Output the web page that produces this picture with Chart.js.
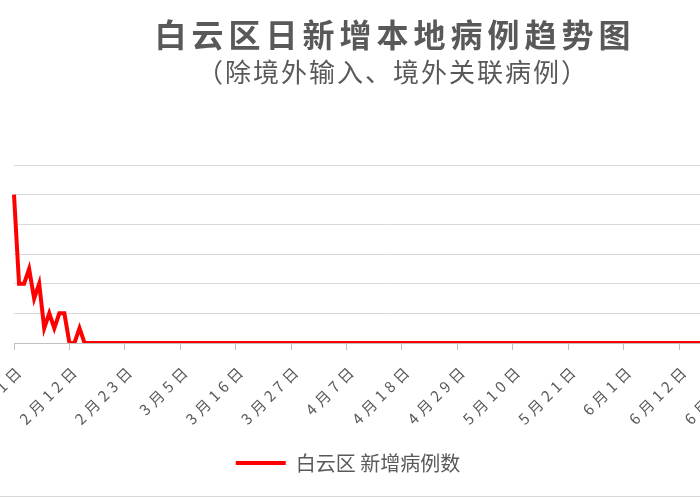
<!DOCTYPE html>
<html>
<head>
<meta charset="utf-8">
<script src="https://cdn.jsdelivr.net/npm/chart.js@4.4.1/dist/chart.umd.min.js"></script>
<style>
html,body{margin:0;padding:0;background:#ffffff;overflow:hidden;width:700px;height:500px;}
#wrap{position:absolute;left:-100px;top:0;width:893px;height:500px;}
#frame{position:absolute;left:0;top:496px;width:700px;height:1px;background:#d9d9d9;}
</style>
</head>
<body>
<div id="wrap"><canvas id="c" width="893" height="500"></canvas></div>
<div id="frame"></div>
<script>
// ---- data ----
const titleText = '白云区日新增本地病例趋势图';
const subtitleText = '（除境外输入、境外关联病例）';
const seriesName = '白云区 新增病例数';
// months covered (2020): [month, number of days]
const months = [[2, 29], [3, 31], [4, 30], [5, 31], [6, 30]];
// daily new local cases, 2月1日 .. 6月30日
const newCases = [
  10, 4, 4, 5, 3, 4, 1, 2, 1, 2, 2, 0, 0, 1, 0, 0, 0, 0, 0, 0,
  0, 0, 0, 0, 0, 0, 0, 0, 0, 0, 0, 0, 0, 0, 0, 0, 0, 0, 0, 0,
  0, 0, 0, 0, 0, 0, 0, 0, 0, 0, 0, 0, 0, 0, 0, 0, 0, 0, 0, 0,
  0, 0, 0, 0, 0, 0, 0, 0, 0, 0, 0, 0, 0, 0, 0, 0, 0, 0, 0, 0,
  0, 0, 0, 0, 0, 0, 0, 0, 0, 0, 0, 0, 0, 0, 0, 0, 0, 0, 0, 0,
  0, 0, 0, 0, 0, 0, 0, 0, 0, 0, 0, 0, 0, 0, 0, 0, 0, 0, 0, 0,
  0, 0, 0, 0, 0, 0, 0, 0, 0, 0, 0, 0, 0, 0, 0, 0, 0, 0, 0, 0,
  0, 0, 0, 0, 0, 0, 0, 0, 0, 0, 0
];
const labelEvery = 11;
const yMin = 0, yMax = 12, yStep = 2;

const categories = [];
months.forEach(([m, n]) => { for (let d = 1; d <= n; d++) categories.push(m + '月' + d + '日'); });

// ---- style ----
const FONT = "'Noto Sans CJK SC', 'Noto Sans', sans-serif";
const GREY_TEXT = '#595959';
const OFFSET_LEFT = 100; // canvas is shifted left by this many px (y-axis area is off-page)

function withSpacing(obj, method, spacing) {
  if (!obj || !obj[method] || obj[method].__ls) return;
  const orig = obj[method];
  const f = function (...args) {
    const ctx = this.ctx;
    const prev = ctx.letterSpacing;
    ctx.letterSpacing = spacing;
    try { return orig.apply(this, args); } finally { ctx.letterSpacing = prev; }
  };
  f.__ls = true;
  obj[method] = f;
}

const excelLook = {
  id: 'excelLook',
  afterLayout(chart) {
    chart.boxes.forEach(b => {
      if (!b || !b.options) return;
      let center = null, spacing = null;
      if (b === chart.legend) { center = 348 + OFFSET_LEFT; }
      else if (b.options.text === titleText) { center = 395 + OFFSET_LEFT; spacing = '5px'; }
      else if (b.options.text === subtitleText) { center = 393 + OFFSET_LEFT; spacing = '2px'; }
      if (center !== null) {
        const w = b.right - b.left;
        b.left = center - w / 2;
        b.right = center + w / 2;
      }
      if (spacing) withSpacing(b, 'draw', spacing);
    });
    withSpacing(chart.scales.x, 'drawLabels', '4.5px');
  }
};

new Chart(document.getElementById('c'), {
  type: 'line',
  data: {
    labels: categories,
    datasets: [{
      label: seriesName,
      data: newCases,
      borderColor: '#ff0000',
      backgroundColor: '#ff0000',
      borderWidth: 4,
      pointRadius: 0,
      pointHoverRadius: 0,
      tension: 0,
      fill: false
    }]
  },
  options: {
    responsive: false,
    animation: false,
    events: [],
    layout: { padding: { top: 0, bottom: 17, left: 0, right: 0 } },
    plugins: {
      title: {
        display: true,
        text: titleText,
        color: GREY_TEXT,
        font: { family: FONT, size: 32, weight: 'bold' },
        padding: { top: 16, bottom: 0 }
      },
      subtitle: {
        display: true,
        text: subtitleText,
        color: GREY_TEXT,
        font: { family: FONT, size: 26, weight: 'normal' },
        padding: { top: 2, bottom: 77.4 }
      },
      legend: {
        display: true,
        position: 'bottom',
        labels: {
          usePointStyle: true,
          pointStyle: 'line',
          pointStyleWidth: 50,
          color: GREY_TEXT,
          font: { family: FONT, size: 20 },
          padding: 10
        }
      },
      tooltip: { enabled: false }
    },
    scales: {
      x: {
        grid: {
          display: true,
          drawOnChartArea: false,
          drawTicks: true,
          tickLength: 7,
          tickWidth: 1,
          tickColor: (c) => (c.index % labelEvery === 0 ? '#bfbfbf' : 'rgba(0,0,0,0)')
        },
        border: { display: true, color: '#bfbfbf', width: 1 },
        ticks: {
          autoSkip: false,
          minRotation: 45,
          maxRotation: 45,
          padding: 10.5,
          labelOffset: 7.5,
          color: GREY_TEXT,
          font: { family: FONT, size: 15 },
          callback: (v, i) => (i % labelEvery === 0 ? categories[i] : '')
        },
        afterFit: (s) => { s.height = 100; }
      },
      y: {
        min: yMin,
        max: yMax,
        ticks: { display: false, stepSize: yStep },
        grid: { color: '#d9d9d9', lineWidth: 1, drawTicks: false },
        border: { display: false },
        afterFit: (s) => { s.width = 14 + OFFSET_LEFT; }
      }
    }
  },
  plugins: [excelLook]
});
</script>
</body>
</html>
